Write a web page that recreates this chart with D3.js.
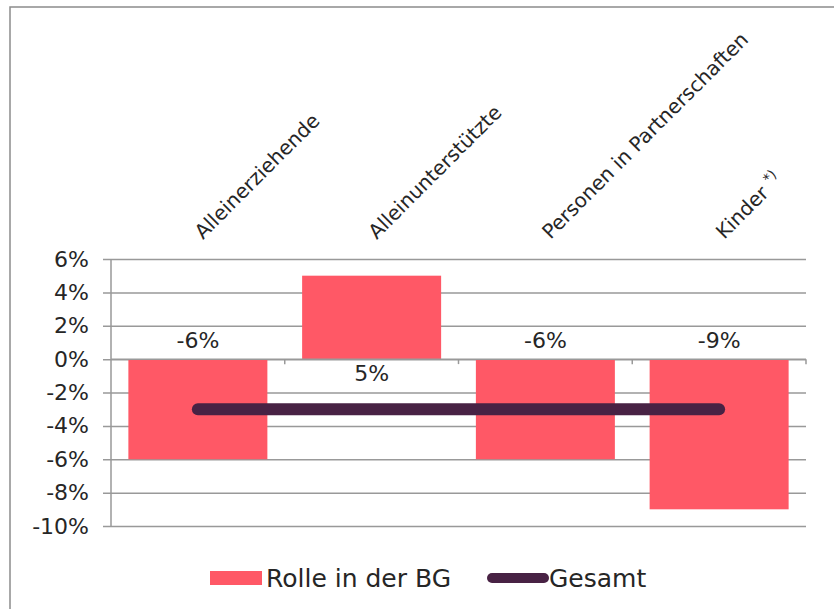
<!DOCTYPE html>
<html>
<head>
<meta charset="utf-8">
<script src="https://cdn.jsdelivr.net/npm/d3@7"></script>
<style>
  body { margin: 0; background: #fff; }
  text { font-family: "DejaVu Sans", sans-serif; fill: #262626; }
</style>
</head>
<body>
<svg id="chart" width="834" height="609"></svg>
<script>
// ---- data
const categories = ["Alleinerziehende", "Alleinunterstützte", "Personen in Partnerschaften", "Kinder *)"];
const rolle_values = [-0.06, 0.05, -0.06, -0.09];
const gesamt_values = [-0.03, -0.03, -0.03, -0.03];
const y_ticks = [0.06, 0.04, 0.02, 0, -0.02, -0.04, -0.06, -0.08, -0.10];
const series_names = ["Rolle in der BG", "Gesamt"];

const bar_color = "#ff5866";
const line_color = "#482244";
const grid_color = "#999";

const svg = d3.select("#chart");
const plot = {left: 111, right: 806, top: 259, bottom: 526};

// outer frame
svg.append("rect")
  .attr("x", 10).attr("y", 7)
  .attr("width", 840).attr("height", 620)
  .attr("fill", "none")
  .attr("stroke", "#8c8c8c")
  .attr("stroke-width", 1.5);

// ---- scales
const x = d3.scaleBand()
  .domain(categories)
  .range([plot.left, plot.right])
  .paddingInner(0.2)
  .paddingOuter(0.1);

const x_outer = d3.scaleBand()
  .domain(categories)
  .range([plot.left, plot.right]);

const y = d3.scaleLinear()
  .domain([-0.10, 0.06])
  .range([plot.bottom, plot.top]);

// plain hyphen as minus, like the original
const fmt = d3.formatLocale({decimal: ",", thousands: ".", grouping: [3], currency: ["", " €"], minus: "-"}).format(".0%");

// ---- grid + y axis
const y_axis = svg.append("g")
  .attr("transform", `translate(${plot.left},0)`)
  .call(d3.axisLeft(y).tickValues(y_ticks).tickFormat(fmt).tickSize(8).tickPadding(14));

y_axis.select(".domain").remove();
y_axis.selectAll(".tick line")
  .attr("x2", plot.right - plot.left)
  .attr("x1", -8)
  .attr("stroke", grid_color)
  .attr("stroke-width", 1.5);
y_axis.selectAll(".tick text")
  .style("font-size", "22px")
  .style("font-family", "DejaVu Sans, sans-serif")
  .attr("fill", "#262626");

svg.append("line")
  .attr("x1", plot.left).attr("x2", plot.left)
  .attr("y1", plot.top).attr("y2", plot.bottom)
  .attr("stroke", grid_color)
  .attr("stroke-width", 1.5);

// ---- bars
svg.append("g")
  .selectAll("rect")
  .data(rolle_values)
  .join("rect")
  .attr("x", (d, i) => x(categories[i]))
  .attr("width", x.bandwidth())
  .attr("y", d => y(Math.max(0, d)))
  .attr("height", d => Math.abs(y(d) - y(0)))
  .attr("fill", bar_color);

// zero axis + category ticks
svg.append("line")
  .attr("x1", plot.left).attr("x2", plot.right)
  .attr("y1", y(0)).attr("y2", y(0))
  .attr("stroke", grid_color)
  .attr("stroke-width", 1.5);

svg.append("g")
  .selectAll("line")
  .data(categories.slice(1).concat(["end"]))
  .join("line")
  .attr("x1", d => d === "end" ? plot.right : x_outer(d))
  .attr("x2", d => d === "end" ? plot.right : x_outer(d))
  .attr("y1", y(0)).attr("y2", y(0) + 5)
  .attr("stroke", grid_color)
  .attr("stroke-width", 1.5);

// ---- gesamt line
const line = d3.line()
  .x((d, i) => x(categories[i]) + x.bandwidth() / 2)
  .y(d => y(d));

svg.append("path")
  .datum(gesamt_values)
  .attr("d", line)
  .attr("fill", "none")
  .attr("stroke", line_color)
  .attr("stroke-width", 12)
  .attr("stroke-linecap", "round");

// ---- data labels
svg.append("g")
  .selectAll("text")
  .data(rolle_values)
  .join("text")
  .attr("x", (d, i) => x(categories[i]) + x.bandwidth() / 2)
  .attr("y", d => d < 0 ? y(0) - 11 : y(0) + 22)
  .attr("text-anchor", "middle")
  .style("font-size", "22px")
  .text(d => fmt(d));

// ---- category labels (rotated)
svg.append("g")
  .selectAll("text")
  .data(categories)
  .join("text")
  .attr("transform", d => `translate(${x(d) + x.bandwidth() / 2 + 5},240) rotate(-45)`)
  .attr("text-anchor", "start")
  .style("font-size", "20px")
  .each(function(d) {
    const t = d3.select(this);
    if (d.endsWith("*)")) {
      t.append("tspan").text(d.replace(" *)", " "));
      t.append("tspan").attr("dy", -8).style("font-size", "14px").text("*)");
    } else {
      t.text(d);
    }
  });

// ---- legend
const legend = svg.append("g");
legend.append("rect")
  .attr("x", 210).attr("y", 571)
  .attr("width", 52).attr("height", 14)
  .attr("fill", bar_color);
legend.append("text")
  .attr("x", 266).attr("y", 587)
  .style("font-size", "25px")
  .text(series_names[0]);

legend.append("line")
  .attr("x1", 492).attr("x2", 544)
  .attr("y1", 578).attr("y2", 578)
  .attr("stroke", line_color)
  .attr("stroke-width", 10)
  .attr("stroke-linecap", "round");
legend.append("text")
  .attr("x", 549).attr("y", 587)
  .style("font-size", "25px")
  .text(series_names[1]);
</script>
</body>
</html>
